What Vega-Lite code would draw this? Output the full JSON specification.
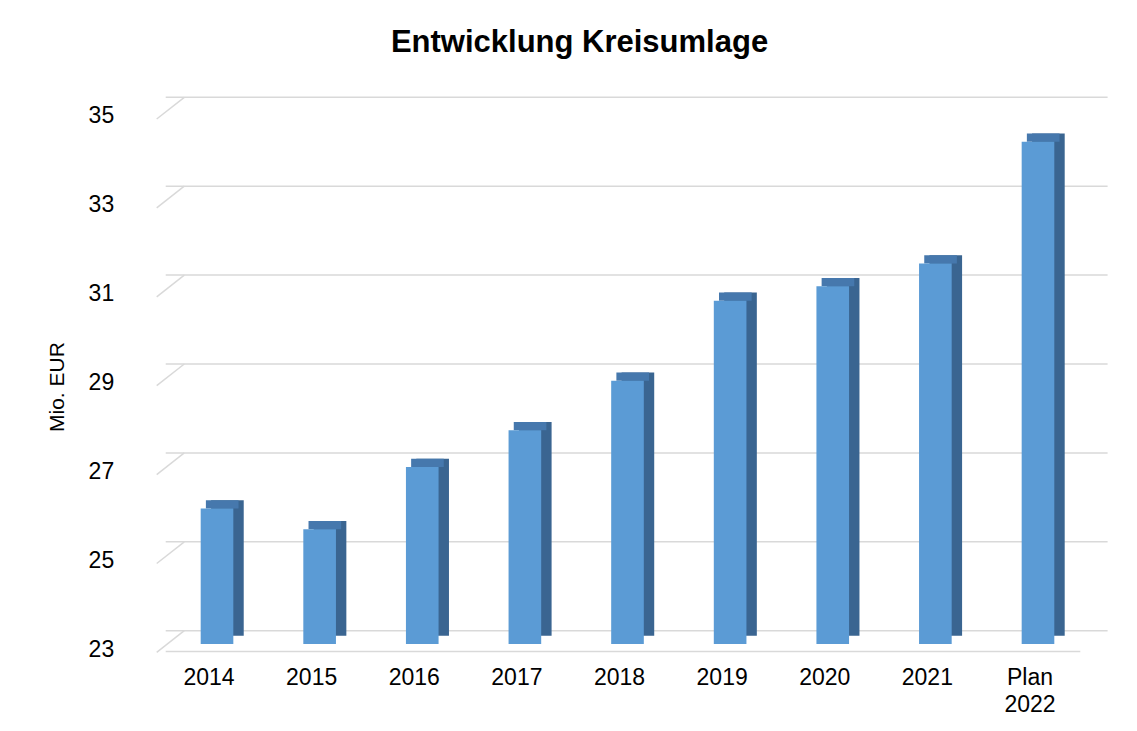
{
  "$schema": "https://vega.github.io/schema/vega-lite/v6.json",
  "width": 923.6,
  "height": 533.4,
  "autosize": "none",
  "padding": {"left": 165.7, "top": 110.6, "right": 47.7, "bottom": 87},
  "background": "white",
  "config": {"view": {"stroke": null}, "font": "Liberation Sans"},
  "title": {
    "text": "Entwicklung Kreisumlage",
    "font": "Liberation Sans",
    "fontSize": 31,
    "fontWeight": "bold",
    "color": "#000000",
    "anchor": "middle",
    "dx": -48,
    "offset": 38
  },
  "datasets": {
    "bars": [
      {"jahr": "2014", "wert": 26.05},
      {"jahr": "2015", "wert": 25.58},
      {"jahr": "2016", "wert": 26.98},
      {"jahr": "2017", "wert": 27.81},
      {"jahr": "2018", "wert": 28.92},
      {"jahr": "2019", "wert": 30.72},
      {"jahr": "2020", "wert": 31.05},
      {"jahr": "2021", "wert": 31.56},
      {"jahr": "Plan 2022", "wert": 34.30}
    ],
    "ticks": [
      {"v": 23}, {"v": 25}, {"v": 27}, {"v": 29}, {"v": 31}, {"v": 33}, {"v": 35}
    ]
  },
  "layer": [
    {
      "data": {"name": "ticks"},
      "mark": {"type": "rule", "color": "#d9d9d9", "strokeWidth": 1.5, "yOffset": -13.3, "xOffset": 18.3, "x2Offset": 18.3},
      "encoding": {
        "y": {"field": "v", "type": "quantitative", "scale": {"domain": [23, 35]}}
      }
    },
    {
      "data": {"name": "ticks"},
      "mark": {"type": "rule", "color": "#d9d9d9", "strokeWidth": 1.5, "xOffset": -44, "x2Offset": -16.4, "yOffset": 8.4, "y2Offset": -13.3},
      "encoding": {
        "x": {
          "datum": "2014",
          "bandPosition": 0,
          "axis": {
            "title": null,
            "bandPosition": 0.5,
            "domain": false,
            "ticks": false,
            "tickSize": 0,
            "labelAngle": 0,
            "labelAlign": "center",
            "labelFont": "Liberation Sans",
            "labelFontSize": 23,
            "labelColor": "#000000",
            "labelPadding": 22,
            "labelOffset": -8,
            "labelBaseline": "top",
            "labelLineHeight": 27,
            "labelExpr": "datum.value == 'Plan 2022' ? ['Plan', '2022'] : datum.value"
          }
        },
        "x2": {"datum": "2014", "bandPosition": 0},
        "y": {"field": "v", "type": "quantitative"},
        "y2": {"field": "v"}
      }
    },
    {
      "data": {"name": "ticks"},
      "transform": [{"filter": "datum.v == 23"}],
      "mark": {"type": "rule", "color": "#d9d9d9", "strokeWidth": 1.5, "yOffset": 7.4, "xOffset": -9, "x2Offset": -9},
      "encoding": {
        "y": {"field": "v", "type": "quantitative"}
      }
    },
    {
      "data": {"name": "bars"},
      "layer": [
        {
          "mark": {"type": "bar", "color": "#3a6591", "xOffset": 10.4, "yOffset": -8.3, "y2Offset": -8.3},
          "encoding": {
            "x": {"field": "jahr", "type": "nominal"},
            "y": {"field": "wert", "type": "quantitative"},
            "y2": {"datum": 23}
          }
        },
        {
          "mark": {"type": "bar", "color": "#4678ad", "xOffset": 5.2, "yOffset": -8.3, "y2Offset": 0},
          "encoding": {
            "x": {"field": "jahr", "type": "nominal"},
            "y": {"field": "wert", "type": "quantitative"},
            "y2": {"field": "wert"}
          }
        },
        {
          "mark": {"type": "bar", "color": "#5b9bd5"},
          "encoding": {
            "x": {
              "field": "jahr",
              "type": "nominal",
              "sort": null,
              "scale": {"paddingInner": 0.682, "paddingOuter": 0.341},
              "axis": {
                "title": null,
                "bandPosition": 0.5,
                "domain": false,
                "ticks": false,
                "tickSize": 0,
                "labelAngle": 0,
                "labelAlign": "center",
                "labelFont": "Liberation Sans",
                "labelFontSize": 23,
                "labelColor": "#000000",
                "labelPadding": 22,
                "labelOffset": -8,
                "labelBaseline": "top",
                "labelLineHeight": 27,
                "labelExpr": "datum.value == 'Plan 2022' ? ['Plan', '2022'] : datum.value"
              }
            },
            "y": {
              "field": "wert",
              "type": "quantitative",
              "scale": {"domain": [23, 35], "zero": false, "nice": false},
              "axis": {
                "title": "Mio. EUR",
                "titleFont": "Liberation Sans",
                "titleFontSize": 21,
                "titleFontWeight": "normal",
                "titleColor": "#000000",
                "titleX": -108.7,
                "titleY": 276,
                "titleAngle": -90,
                "titleAlign": "center",
                "titleBaseline": "middle",
                "values": [23, 25, 27, 29, 31, 33, 35],
                "grid": false,
                "domain": false,
                "ticks": false,
                "tickSize": 0,
                "labelFont": "Liberation Sans",
                "labelFontSize": 23,
                "labelColor": "#000000",
                "labelPadding": 52,
                "labelOffset": 5
              }
            },
            "y2": {"datum": 23}
          }
        }
      ]
    }
  ]
}
